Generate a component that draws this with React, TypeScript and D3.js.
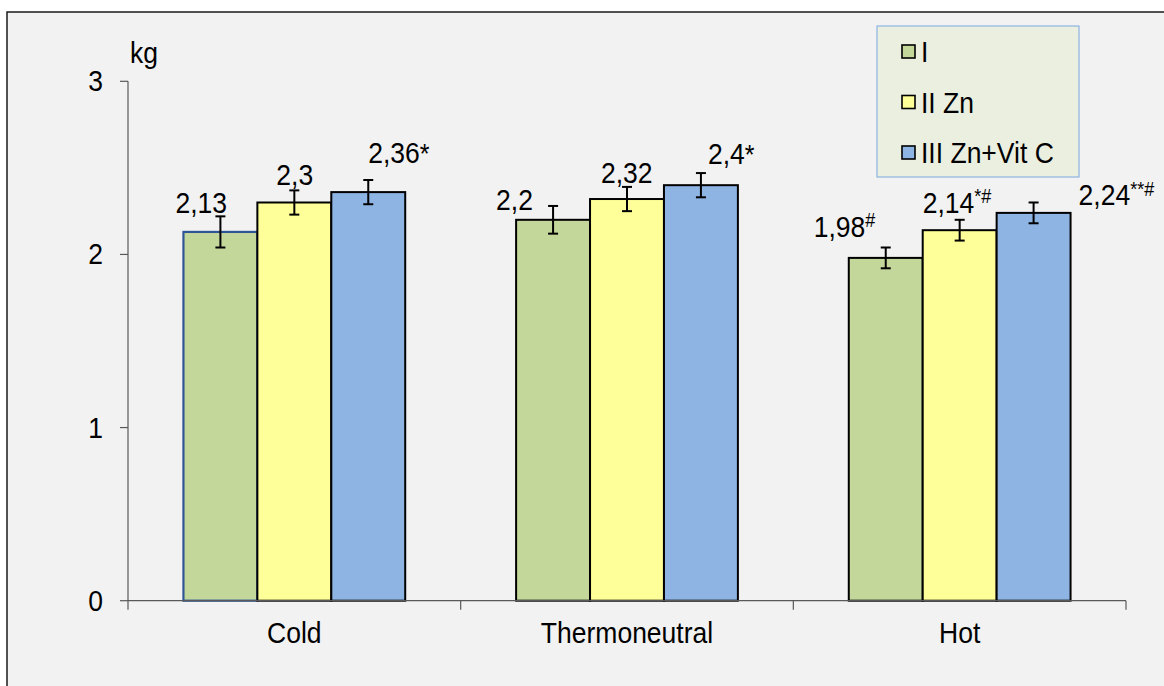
import React from 'react';
import * as d3 from 'd3';

// chart data
const categories = ['Cold', 'Thermoneutral', 'Hot'];
const seriesNames = ['I', 'II Zn', 'III Zn+Vit C'];
const seriesColors = ['#c4d79b', '#ffff99', '#8eb4e3'];

// values per series, in category order
const valuesI = [2.13, 2.2, 1.98];
const valuesII = [2.3, 2.32, 2.14];
const valuesIII = [2.36, 2.4, 2.24];
const errorsI = [0.09, 0.08, 0.06];
const errorsII = [0.07, 0.07, 0.06];
const errorsIII = [0.07, 0.07, 0.06];

// significance marks after the value labels
const marksI = ['', '', '#'];
const marksII = ['', '', '*#'];
const marksIII = ['*', '*', '**#'];

const yTicks = [0, 1, 2, 3];

const values = [valuesI, valuesII, valuesIII];
const errors = [errorsI, errorsII, errorsIII];
const marks = [marksI, marksII, marksIII];

// hand-placed label offsets (dx from bar centre, dy from error bar top), like in the source
const labelNudge = [
  [[-45, -3], [-57, 4], [-72, -11]],
  [[-18, -5], [-26, -4], [-37, -7]],
  [[0, -17], [7, -9], [45, 3]],
];

const fmt = (v: number) => String(v).replace('.', ',');

// text slightly stretched vertically, the source renders taller glyphs
const T = ({ x, y, anchor = 'start', size = 26.5, children }: any) => (
  <text
    transform={`translate(${x},${y}) scale(1,1.08)`}
    textAnchor={anchor}
    fontSize={size}
    fill="#000"
  >
    {children}
  </text>
);

const App = () => {
  const width = 1164;
  const height = 686;
  const font = '"Liberation Sans", Arial, sans-serif';

  const x0 = d3.scaleBand().domain(categories).range([128, 1126]).padding(0);
  const x1 = d3
    .scaleBand()
    .domain(seriesNames)
    .range([0, x0.bandwidth()])
    .paddingInner(0)
    .paddingOuter(0.75);
  const y = d3.scaleLinear().domain([0, 3]).range([600.7, 81.3]);

  const bw = x1.bandwidth();

  return (
    <svg
      width={width}
      height={height}
      style={{ position: 'absolute', left: 0, top: 0, fontFamily: font }}
    >
      <rect x={0} y={0} width={width} height={height} fill="#ffffff" />
      <rect x={7} y={12} width={width} height={height} fill="#f2f2f2" stroke="#1a1a1a" strokeWidth={1.5} />

      {/* y axis */}
      <line x1={128} x2={128} y1={y(3)} y2={y(0)} stroke="#595959" strokeWidth={1.2} />
      {yTicks.map(t => (
        <g key={t}>
          <line x1={120} x2={128} y1={y(t)} y2={y(t)} stroke="#595959" strokeWidth={1.2} />
          <T x={103} y={y(t) + 10} anchor="end">{t}</T>
        </g>
      ))}
      <T x={130} y={63}>kg</T>

      {/* bars */}
      {categories.map((c, ci) => (
        <g key={c}>
          {seriesNames.map((s, si) => {
            const v = values[si][ci];
            const bx = (x0(c) as number) + (x1(s) as number);
            const cold = ci === 0 && si === 0;
            return (
              <rect
                key={s}
                x={bx}
                y={y(v)}
                width={bw}
                height={y(0) - y(v)}
                fill={seriesColors[si]}
                stroke={cold ? '#2f5597' : '#000'}
                strokeWidth={cold ? 2.2 : 2}
              />
            );
          })}
        </g>
      ))}

      {/* x axis */}
      <line x1={128} x2={1126} y1={y(0)} y2={y(0)} stroke="#595959" strokeWidth={1.2} />
      {[...categories.map(c => x0(c) as number), 1126].map((tx, i) => (
        <line key={i} x1={tx} x2={tx} y1={y(0)} y2={y(0) + 9} stroke="#595959" strokeWidth={1.2} />
      ))}
      {categories.map(c => (
        <T key={c} x={(x0(c) as number) + x0.bandwidth() / 2} y={643} anchor="middle">
          {c}
        </T>
      ))}

      {/* error bars and labels */}
      {categories.map((c, ci) => (
        <g key={c}>
          {seriesNames.map((s, si) => {
            const v = values[si][ci];
            const e = errors[si][ci];
            const cx = (x0(c) as number) + (x1(s) as number) + bw / 2;
            const [dx, dy] = labelNudge[si][ci];
            const m = marks[si][ci];
            const sup = ci === 2;
            return (
              <g key={s}>
                <line x1={cx} x2={cx} y1={y(v + e)} y2={y(v - e)} stroke="#000" strokeWidth={2} />
                <line x1={cx - 5} x2={cx + 5} y1={y(v + e)} y2={y(v + e)} stroke="#000" strokeWidth={2} />
                <line x1={cx - 5} x2={cx + 5} y1={y(v - e)} y2={y(v - e)} stroke="#000" strokeWidth={2} />
                <T x={cx + dx} y={y(v + e) + dy}>
                  {fmt(v)}
                  {m && (
                    <tspan fontSize={sup ? 18 : 25} dy={sup ? -9 : 0}>
                      {m}
                    </tspan>
                  )}
                </T>
              </g>
            );
          })}
        </g>
      ))}

      {/* legend */}
      <rect x={877} y={26} width={202} height={151} fill="#ebefe0" stroke="#8db3e2" strokeWidth={1.2} />
      {seriesNames.map((s, i) => {
        const ly = 52 + i * 50.5;
        return (
          <g key={s}>
            <rect x={902} y={ly - 7} width={13} height={13} fill={seriesColors[i]} stroke="#000" strokeWidth={1.6} />
            <T x={921} y={ly + 10}>{s}</T>
          </g>
        );
      })}
    </svg>
  );
};

export default App;
